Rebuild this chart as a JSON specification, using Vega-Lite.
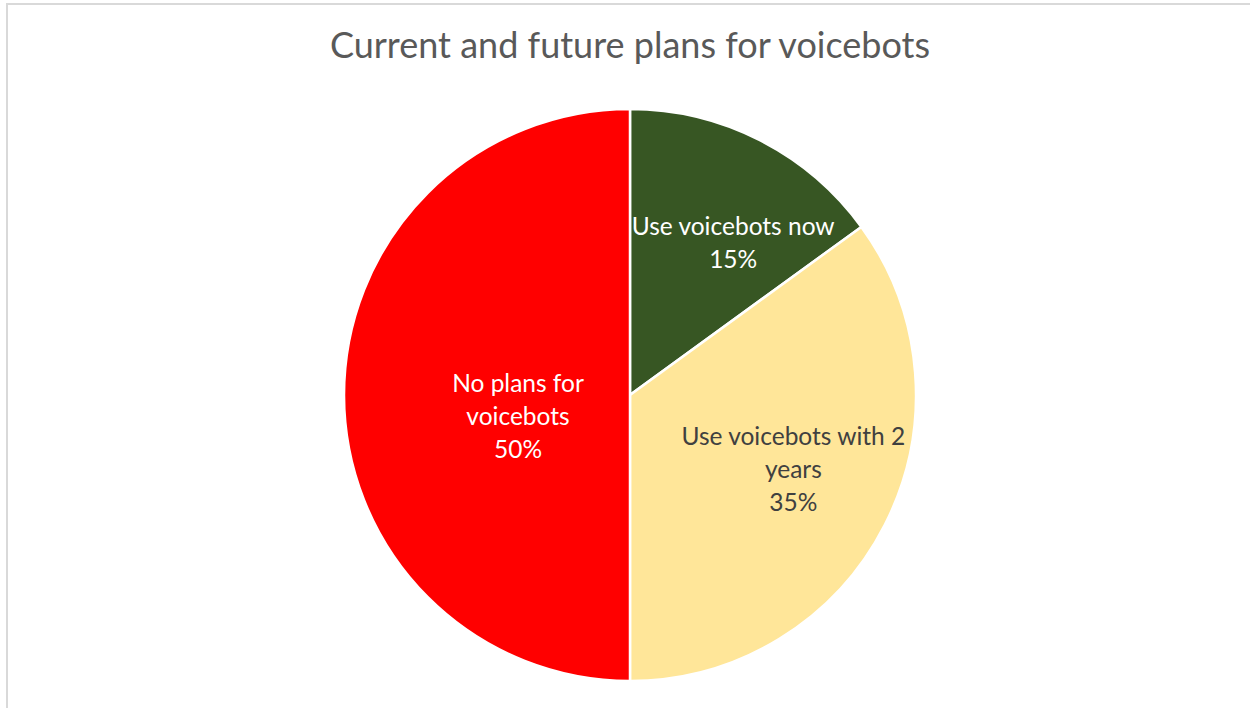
{
  "$schema": "https://vega.github.io/schema/vega-lite/v6.json",
  "width": 1246,
  "height": 782,
  "autosize": {"type": "none"},
  "padding": {"left": 7, "top": 4, "right": 0, "bottom": 0},
  "background": "white",
  "view": {"stroke": "#d9d9d9", "strokeWidth": 2},
  "title": {
    "text": "Current and future plans for voicebots",
    "font": "Lato",
    "fontSize": 36,
    "letterSpacing": 1.5,
    "fontWeight": "normal",
    "color": "#595959",
    "anchor": "middle",
    "baseline": "middle",
    "offset": -79
  },
  "data": {
    "values": [
      {"category": "Use voicebots now", "label": "Use voicebots now\n15%", "value": 15, "rank": 1},
      {"category": "Use voicebots with 2 years", "label": "Use voicebots with 2\nyears\n35%", "value": 35, "rank": 2},
      {"category": "No plans for voicebots", "label": "No plans for\nvoicebots\n50%", "value": 50, "rank": 3}
    ]
  },
  "encoding": {
    "theta": {"field": "value", "type": "quantitative", "stack": true},
    "order": {"field": "rank", "type": "ordinal"}
  },
  "layer": [
    {
      "mark": {"type": "arc", "outerRadius": 286, "stroke": "white", "strokeWidth": 2.5},
      "encoding": {
        "color": {
          "field": "category",
          "type": "nominal",
          "scale": {
            "domain": ["Use voicebots now", "Use voicebots with 2 years", "No plans for voicebots"],
            "range": ["#375623", "#ffe699", "#ff0000"]
          },
          "legend": null
        }
      }
    },
    {
      "mark": {"type": "text", "radius": 170, "dx": 26, "dy": -16, "font": "Lato", "fontSize": 24.5, "lineHeight": 33, "lineBreak": "\n", "color": "white", "align": "center", "baseline": "middle"},
      "encoding": {
        "text": {"condition": {"test": "datum.category === 'Use voicebots now'", "field": "label"}, "value": ""}
      }
    },
    {
      "mark": {"type": "text", "radius": 180, "dx": 3, "dy": -39, "font": "Lato", "fontSize": 24.5, "lineHeight": 33, "lineBreak": "\n", "color": "#404040", "align": "center", "baseline": "middle"},
      "encoding": {
        "text": {"condition": {"test": "datum.category === 'Use voicebots with 2 years'", "field": "label"}, "value": ""}
      }
    },
    {
      "mark": {"type": "text", "radius": 112, "dy": -10, "font": "Lato", "fontSize": 24.5, "lineHeight": 33, "lineBreak": "\n", "color": "white", "align": "center", "baseline": "middle"},
      "encoding": {
        "text": {"condition": {"test": "datum.category === 'No plans for voicebots'", "field": "label"}, "value": ""}
      }
    }
  ]
}
